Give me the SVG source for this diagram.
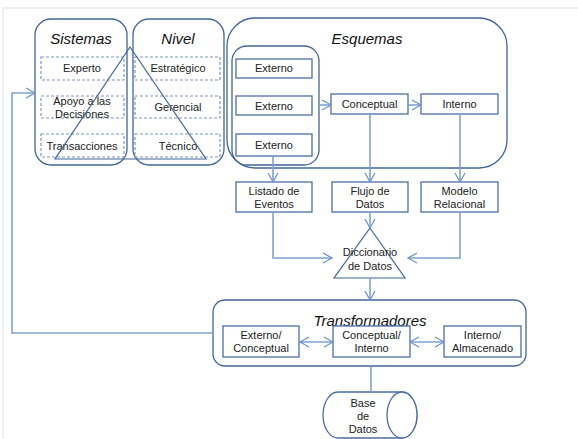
<svg xmlns="http://www.w3.org/2000/svg" width="578" height="439" viewBox="0 0 578 439">
<style>
.bg{fill:#ffffff}
.frame{stroke:#ececec;stroke-width:1.5;fill:none}
.grp{fill:none;stroke:#41679a;stroke-width:1.3}
.box{fill:#ffffff;stroke:#4a6fa5;stroke-width:1.3}
.dash{fill:none;stroke:#7e97bd;stroke-width:1.2;stroke-dasharray:3,2}
.tri{fill:none;stroke:#41679a;stroke-width:1.2}
.conn{fill:none;stroke:#7ea3d4;stroke-width:1.6}
text{font-family:"Liberation Sans",Arial,sans-serif;font-size:11px;fill:#222;text-anchor:middle}
.title{font-size:15px;font-style:italic;fill:#111}
</style>
<defs>
<marker id="arr" markerUnits="userSpaceOnUse" markerWidth="12" markerHeight="12" refX="10" refY="6" orient="auto-start-reverse">
<path d="M1,1 L10,6 L1,11" fill="none" stroke="#6f95cb" stroke-width="1.3"/>
</marker>
</defs>
<rect class="bg" x="0" y="0" width="578" height="439"/>
<path class="frame" d="M3,439 L3,8 L578,8"/>

<g id="sistemas">
<rect class="grp" x="35" y="19" width="92" height="146" rx="16"/>
<text class="title" x="81" y="44">Sistemas</text>
<rect class="dash" x="41" y="57" width="83" height="23"/>
<text x="82" y="72">Experto</text>
<rect class="dash" x="41" y="96" width="83" height="22"/>
<text x="82" y="105">Apoyo a las</text>
<text x="82" y="118">Decisiones</text>
<rect class="dash" x="41" y="134" width="83" height="23"/>
<text x="82" y="150">Transacciones</text>
</g>

<g id="nivel">
<rect class="grp" x="133" y="19" width="91" height="146" rx="16"/>
<text class="title" x="178" y="44">Nivel</text>
<rect class="dash" x="135" y="57" width="85" height="23"/>
<text x="178" y="72">Estratégico</text>
<rect class="dash" x="135" y="96" width="85" height="22"/>
<text x="178" y="111">Gerencial</text>
<rect class="dash" x="135" y="134" width="85" height="23"/>
<text x="178" y="150">Técnico</text>
</g>

<g id="piramide">
<path class="tri" d="M130,47 L206,159 L55,159 Z"/>
</g>

<g id="esquemas">
<rect class="grp" x="227" y="18" width="280" height="150" rx="28"/>
<text class="title" x="367" y="44">Esquemas</text>
<rect class="grp" x="232" y="46" width="87" height="119" rx="15"/>
</g>

<g id="externo1"><rect class="box" x="236" y="59" width="76" height="19"/><text x="274" y="72">Externo</text></g>
<g id="externo2"><rect class="box" x="236" y="96" width="76" height="19"/><text x="274" y="110">Externo</text></g>
<g id="externo3"><rect class="box" x="236" y="134" width="76" height="22"/><text x="274" y="149">Externo</text></g>
<g id="conceptual"><rect class="box" x="331" y="94" width="77" height="20"/><text x="369.5" y="108">Conceptual</text></g>
<g id="interno"><rect class="box" x="421" y="94" width="77" height="20"/><text x="459.5" y="108">Interno</text></g>

<g id="listado"><rect class="box" x="236" y="182" width="76" height="30"/><text x="274" y="195">Listado de</text><text x="274" y="208">Eventos</text></g>
<g id="flujo"><rect class="box" x="332" y="182" width="76" height="30"/><text x="370" y="195">Flujo de</text><text x="370" y="208">Datos</text></g>
<g id="modelo"><rect class="box" x="421" y="182" width="77" height="30"/><text x="459.5" y="195">Modelo</text><text x="459.5" y="208">Relacional</text></g>

<g id="diccionario">
<path class="tri" d="M370,228 L405,278 L334,278 Z"/>
<text x="370" y="256">Diccionario</text>
<text x="370" y="270">de Datos</text>
</g>

<g id="transformadores">
<rect class="grp" x="213" y="300" width="313" height="66" rx="12"/>
<text class="title" x="370" y="326">Transformadores</text>
</g>
<g id="ext_conc"><rect class="box" x="223" y="326" width="76" height="31"/><text x="261" y="339">Externo/</text><text x="261" y="352">Conceptual</text></g>
<g id="conc_int"><rect class="box" x="333" y="326" width="77" height="31"/><text x="371.5" y="339">Conceptual/</text><text x="371.5" y="352">Interno</text></g>
<g id="int_alm"><rect class="box" x="444" y="326" width="77" height="31"/><text x="482.5" y="339">Interno/</text><text x="482.5" y="352">Almacenado</text></g>

<g id="basedatos">
<path class="box" d="M338,392 L402,392 A15,23 0 0 1 402,438 L338,438 A15,23 0 0 1 338,392 Z"/>
<ellipse class="box" cx="402" cy="415" rx="15" ry="23"/>
<text x="363" y="407">Base</text>
<text x="363" y="420">de</text>
<text x="363" y="433">Datos</text>
</g>

<g id="connectors">
<path class="conn" d="M319,105 L331,105" marker-end="url(#arr)"/>
<path class="conn" d="M408,105 L421,105" marker-end="url(#arr)"/>
<path class="conn" d="M273,156 L273,182" marker-end="url(#arr)"/>
<path class="conn" d="M370,114 L370,182" marker-end="url(#arr)"/>
<path class="conn" d="M460,114 L460,182" marker-end="url(#arr)"/>
<path class="conn" d="M273,212 L273,258 L332,258" marker-end="url(#arr)"/>
<path class="conn" d="M460,212 L460,258 L408,258" marker-end="url(#arr)"/>
<path class="conn" d="M370,212 L370,228" marker-end="url(#arr)"/>
<path class="conn" d="M370,278 L370,300" marker-end="url(#arr)"/>
<path class="conn" d="M300,342 L333,342" marker-start="url(#arr)" marker-end="url(#arr)"/>
<path class="conn" d="M410,342 L444,342" marker-start="url(#arr)" marker-end="url(#arr)"/>
<path class="conn" d="M371,366 L371,392"/>
<path class="conn" d="M213,333 L12,333 L12,93 L35,93" marker-end="url(#arr)"/>
</g>
</svg>
